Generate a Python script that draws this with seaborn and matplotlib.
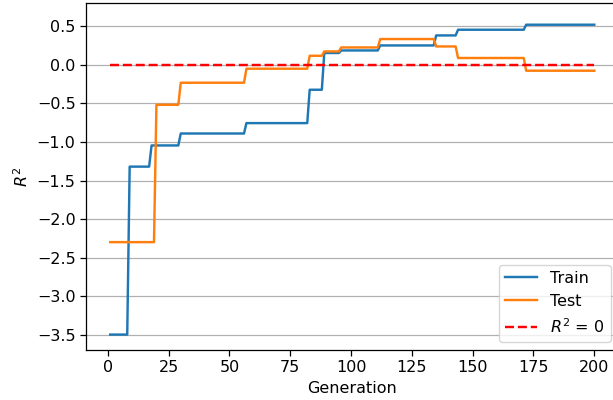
import numpy as np
import pandas as pd
import matplotlib
matplotlib.use("Agg")
import matplotlib.pyplot as plt
import seaborn as sns

# Step data: generation where each level starts, and the level value
train_starts = [1, 9, 18, 30, 57, 83, 89, 96, 112, 135, 144, 172]
train_values = [-3.50, -1.32, -1.045, -0.89, -0.755, -0.322, 0.155, 0.188, 0.253, 0.383, 0.457, 0.522]
test_starts = [1, 20, 30, 57, 83, 89, 96, 112, 135, 144, 172]
test_values = [-2.30, -0.517, -0.231, -0.049, 0.119, 0.175, 0.227, 0.336, 0.24, 0.09, -0.075]
n_generations = 200


def expand(starts, values, n):
    ends = starts[1:] + [n + 1]
    counts = [e - s for s, e in zip(starts, ends)]
    return np.repeat(values, counts)


gens = np.arange(1, n_generations + 1)
df = pd.DataFrame({
    "Generation": np.concatenate([gens, gens]),
    "R2": np.concatenate([expand(train_starts, train_values, n_generations),
                          expand(test_starts, test_values, n_generations)]),
    "Set": ["Train"] * n_generations + ["Test"] * n_generations,
})

FS = 11.5
fig = plt.figure(figsize=(6.13, 4.0), dpi=100)
ax = fig.add_axes([86 / 613, 50 / 400, 532.5 / 613, 346.7 / 400])

sns.lineplot(data=df, x="Generation", y="R2", hue="Set",
             palette=["#1f77b4", "#ff7f0e"], linewidth=1.75, ax=ax)
ax.plot(gens, np.zeros_like(gens, dtype=float), "r--", linewidth=1.75, label="$R^2$ = 0")

ax.set_ylim(-3.70, 0.80)
ax.set_xlim(-8.95, 209.95)
ax.set_yticks([0.5, 0.0, -0.5, -1.0, -1.5, -2.0, -2.5, -3.0, -3.5])
ax.set_xticks([0, 25, 50, 75, 100, 125, 150, 175, 200])
ax.grid(axis="y", color="#b0b0b0", linewidth=0.9)
ax.set_axisbelow(True)
ax.set_xlabel("Generation", fontsize=FS)
ax.set_ylabel("$R^2$", fontsize=FS)
ax.tick_params(labelsize=FS, length=4, width=0.9)
for s in ax.spines.values():
    s.set_linewidth(0.9)

handles, labels = ax.get_legend_handles_labels()
ax.legend(handles, labels, loc="lower right", fontsize=FS)

fig.savefig("out.png", dpi=100)
